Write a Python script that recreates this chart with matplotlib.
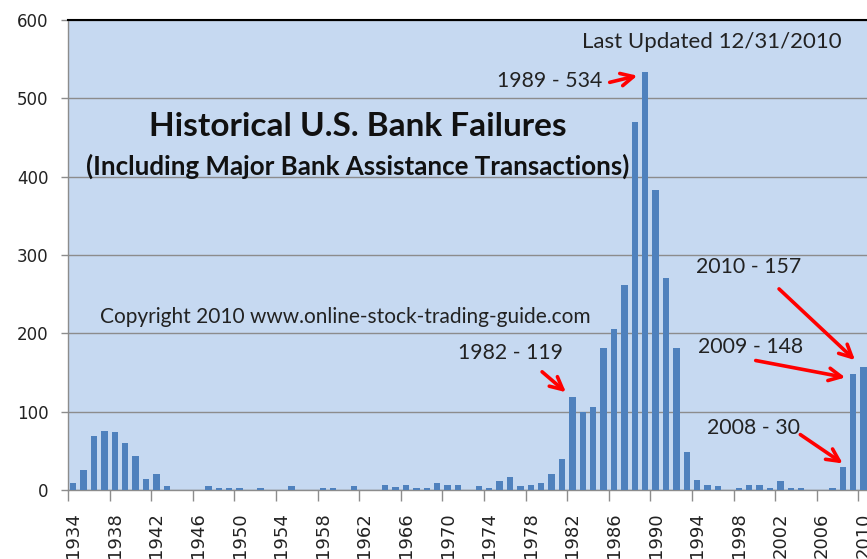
import matplotlib
matplotlib.use("Agg")
import matplotlib.pyplot as plt
import numpy as np

years = list(range(1934, 2011))
failures = [9, 25, 69, 75, 74, 60, 43, 14, 20, 5,
            0, 0, 0, 5, 3, 3, 3, 0, 3, 0,
            0, 5, 0, 0, 3, 3, 0, 5, 0, 0,
            7, 4, 7, 3, 3, 9, 7, 7, 0, 5,
            3, 11, 16, 5, 7, 9, 20, 40, 119, 99,
            106, 181, 205, 262, 470, 534, 383, 271, 181, 49,
            13, 7, 5, 0, 2, 7, 7, 2, 11, 2,
            2, 0, 0, 2, 30, 148, 157]
yticks = [0, 100, 200, 300, 400, 500, 600]

title = "Historical U.S. Bank Failures"
subtitle = "(Including Major Bank Assistance Transactions)"
updated = "Last Updated 12/31/2010"
copyright_txt = "Copyright 2010 www.online-stock-trading-guide.com"
callouts = [  # (year, label)
    (1989, "1989 - 534"),
    (1982, "1982 - 119"),
    (2010, "2010 - 157"),
    (2009, "2009 - 148"),
    (2008, "2008 - 30"),
]

W, H = 867, 559
fig = plt.figure(figsize=(W / 100, H / 100), dpi=100)
left_px, right_px, top_px, bot_px = 68, 68 + 77 * 10.4, 20, 490
ax = fig.add_axes([left_px / W, 1 - bot_px / H, (right_px - left_px) / W, (bot_px - top_px) / H])

bg = "#C6D9F1"
bar_c = "#4F81BD"
grid_c = "#8C8C8C"
ax.set_facecolor(bg)

x = np.arange(len(years))
ax.bar(x, failures, width=0.6, color=bar_c, zorder=3)

ax.set_xlim(-0.5, len(years) - 0.5)
ax.set_ylim(0, 600)
ax.set_yticks(yticks)
ax.set_yticklabels([str(v) for v in yticks], fontsize=12, color="#222222")
ax.yaxis.grid(True, color=grid_c, linewidth=1, zorder=1)
ax.tick_params(axis="y", length=5, width=1, color=grid_c, pad=9)

lab_idx = x[::4]
ax.set_xticks(lab_idx)
ax.set_xticklabels([str(years[i]) for i in lab_idx], rotation=90, fontsize=13,
                   color="#222222", va="top", ha="center")
ax.tick_params(axis="x", which="major", length=0, pad=16)
ax.set_xticks(np.arange(-0.5, len(years), 4), minor=True)
ax.tick_params(axis="x", which="minor", length=8, width=1, color=grid_c)

for s in ["left", "bottom"]:
    ax.spines[s].set_color(grid_c)
    ax.spines[s].set_linewidth(1)
ax.spines["right"].set_visible(False)
ax.spines["top"].set_color("black")
ax.spines["top"].set_linewidth(1.5)
ax.set_axisbelow(True)


def px2data(px, py):
    return (px - left_px) / 10.4 - 0.5, (bot_px - py) / ((bot_px - top_px) / 600)


fnt = "Lato"
tx, ty = px2data(358, 127)
ax.text(tx, ty, title, fontsize=24, fontweight="bold", family=fnt, ha="center", va="center", color="#111111")
tx, ty = px2data(358, 166)
ax.text(tx, ty, subtitle, fontsize=18.6, fontweight="bold", family=fnt, ha="center", va="center", color="#111111")
tx, ty = px2data(712, 42)
ax.text(tx, ty, updated, fontsize=16, family=fnt, ha="center", va="center", color="#222222")
tx, ty = px2data(345, 317)
ax.text(tx, ty, copyright_txt, fontsize=15, family=fnt, ha="center", va="center", color="#222222")

# callout text centres and arrow start/end points in pixels
text_pos = {1989: (550, 81), 1982: (510, 353), 2010: (749, 267), 2009: (751, 347), 2008: (753, 428)}
arrow_from = {1989: (607, 83), 1982: (540, 370), 2010: (777, 287), 2009: (753, 360), 2008: (798, 433)}
arrow_to = {1989: (640, 75), 1982: (568, 394), 2010: (857, 362), 2009: (848, 378), 2008: (845, 465)}

for yr, lab in callouts:
    tx, ty = px2data(*text_pos[yr])
    ax.text(tx, ty, lab, fontsize=15.3, family=fnt, ha="center", va="center", color="#222222", zorder=5)
    ax.annotate("", xy=px2data(*arrow_to[yr]), xytext=px2data(*arrow_from[yr]),
                arrowprops=dict(arrowstyle="->,head_length=0.9,head_width=0.45", color="#FF0000", lw=2.6),
                zorder=6, annotation_clip=False)

fig.savefig("out.png", dpi=100)
